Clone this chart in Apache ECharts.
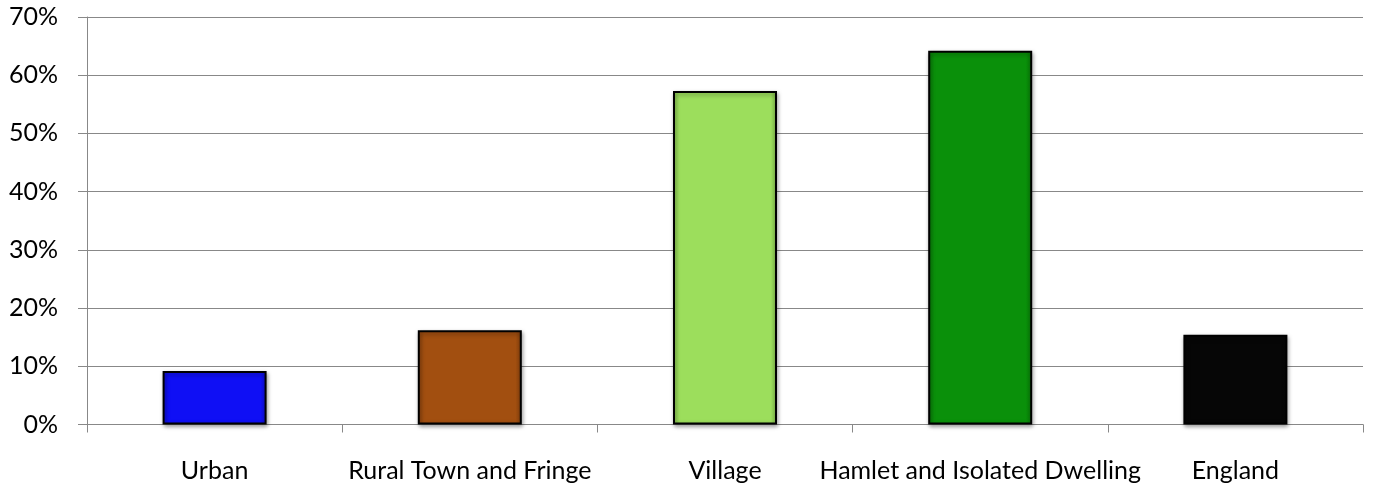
<!DOCTYPE html>
<html>
<head>
<meta charset="utf-8">
<script src="https://cdn.jsdelivr.net/npm/echarts@6/dist/echarts.min.js"></script>
<style>html,body{margin:0;padding:0;background:#fff}#c{width:1373px;height:490px}</style>
</head>
<body>
<div id="c"></div>
<script>
const categories = ["Urban", "Rural Town and Fringe", "Village", "Hamlet and Isolated Dwelling", "England"];
const values = [9.2, 16.2, 57.3, 64.2, 15.4];
const barColors = ["#0f0ff5", "#a24f10", "#9cde5c", "#0a900a", "#060606"];
const yTicks = [0, 10, 20, 30, 40, 50, 60, 70];

function darken(hex, amt) {
  const n = parseInt(hex.slice(1), 16);
  let r = (n >> 16) & 255, g = (n >> 8) & 255, b = n & 255;
  return `rgb(${Math.round(r*(1-amt))},${Math.round(g*(1-amt))},${Math.round(b*(1-amt))})`;
}

const chart = echarts.init(document.getElementById('c'), null, {renderer: 'canvas'});
const font = 'Lato, "Open Sans", sans-serif';
chart.setOption({
  animation: false,
  grid: {left: 87, right: 10, top: 17, bottom: 65.5, containLabel: false},
  xAxis: {
    type: 'category',
    data: categories,
    boundaryGap: true,
    axisLine: {lineStyle: {color: '#888', width: 1}},
    axisTick: {show: true, length: 8, lineStyle: {color: '#888'}},
    axisLabel: {color: '#000', fontFamily: font, fontSize: 25, margin: 34, interval: 0, hideOverlap: false}
  },
  yAxis: {
    type: 'value',
    min: yTicks[0],
    max: yTicks[yTicks.length - 1],
    interval: 10,
    axisLine: {show: true, lineStyle: {color: '#888', width: 1}},
    axisTick: {show: true, length: 9, lineStyle: {color: '#888'}},
    splitLine: {lineStyle: {color: '#888', width: 1}},
    axisLabel: {color: '#000', fontFamily: font, fontSize: 25, margin: 29, formatter: v => v + '%'}
  },
  series: [{
    type: 'bar',
    barWidth: 104,
    data: values.map((v, i) => ({
      value: v,
      itemStyle: {
        color: {
          type: 'linear', x: 0, y: 0, x2: 1, y2: 0,
          colorStops: [
            {offset: 0, color: darken(barColors[i], 0.15)},
            {offset: 0.06, color: barColors[i]},
            {offset: 0.94, color: barColors[i]},
            {offset: 1, color: darken(barColors[i], 0.2)}
          ]
        },
        borderColor: '#000',
        borderWidth: 2,
        shadowColor: 'rgba(0,0,0,0.35)',
        shadowBlur: 4,
        shadowOffsetX: 1,
        shadowOffsetY: 2
      }
    }))
  }]
});
</script>
</body>
</html>
